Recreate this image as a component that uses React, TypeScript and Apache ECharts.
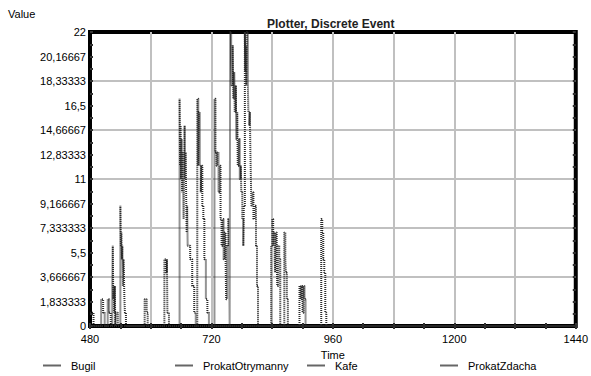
import React, { useEffect, useRef } from "react";
import * as echarts from "echarts";

// [time (min), value]
const bugil: number[][] = [
  [480, 1], [487, 0], [502, 2], [506, 1], [509, 0], [515, 2], [518, 1], [521, 0],
  [524, 3], [525, 6], [526, 2], [527, 3], [528, 1], [529, 3], [530, 0], [531, 1], [535, 0],
  [540, 9], [541, 6], [542, 7], [543, 5], [544, 6], [545, 3], [546, 5], [547, 4], [548, 2], [549, 1], [551, 0],
  [588, 2], [592, 1], [594, 0], [627, 5], [630, 4], [632, 5], [633, 1], [636, 0], [1440, 0],
];
const prokatOtrymanny: number[][] = [
  [480, 0], [657, 17], [658, 12], [659, 15], [660, 11], [661, 14], [662, 10], [663, 13], [664, 11],
  [665, 8], [666, 12], [667, 15], [668, 11], [669, 13], [670, 10], [671, 7], [672, 9], [673, 6],
  [675, 6], [678, 5], [682, 3], [686, 1], [689, 0],
  [692, 17], [694, 12], [695, 16], [697, 12], [699, 10], [700, 12], [702, 9], [704, 8], [706, 5],
  [709, 2], [712, 1], [715, 0], [1440, 0],
];
const kafe: number[][] = [
  [480, 0], [726, 17], [728, 13], [730, 12], [732, 13], [734, 10], [736, 12], [738, 8], [740, 6],
  [742, 8], [744, 5], [746, 7], [748, 5], [749, 2], [751, 6], [753, 8], [755, 5], [756, 0],
  [757, 22], [759, 20], [760, 18], [762, 21], [763, 17], [765, 19], [766, 16], [768, 18], [769, 14],
  [771, 16], [772, 12], [774, 14], [776, 11], [778, 12], [779, 10], [781, 8], [783, 6], [784, 9],
  [786, 22], [787, 19], [788, 21], [789, 18], [790, 22], [792, 18], [793, 16], [795, 15], [796, 16],
  [797, 13], [798, 11], [799, 9], [801, 10], [803, 8], [805, 9], [808, 6], [810, 3], [812, 0], [1440, 0],
];
const prokatZdacha: number[][] = [
  [480, 0], [838, 6], [840, 8], [842, 6], [843, 7], [845, 5], [846, 4], [847, 7], [849, 5], [850, 3],
  [852, 6], [854, 5], [856, 0], [864, 7], [866, 5], [867, 4], [869, 2], [871, 0],
  [894, 3], [896, 2], [898, 3], [900, 1], [902, 3], [904, 2], [906, 0],
  [937, 8], [939, 7], [941, 5], [943, 4], [945, 1], [947, 0], [1440, 0],
];

const seriesNames = ["Bugil", "ProkatOtrymanny", "Kafe", "ProkatZdacha"];
const seriesData = [bugil, prokatOtrymanny, kafe, prokatZdacha];
const legendLefts = [43, 175, 307, 440];

const yMax = 22;
const yLabelSteps = 12;
const yGridSteps = 6;
const xMin = 480;
const xMax = 1440;

const FONT = "Liberation Sans, Arial, sans-serif";

function fmtY(k: number): string {
  const x = (k * yMax) / yLabelSteps;
  return Number(x.toPrecision(7)).toString().replace(".", ",");
}

export default function App() {
  const ref = useRef<HTMLDivElement>(null);
  useEffect(() => {
    if (!ref.current) return;
    const chart = echarts.init(ref.current, undefined, { renderer: "svg" });
    const tickStyle = { color: "#333", width: 2 };
    const gridLine = { show: true, showMinLine: false, showMaxLine: false, lineStyle: { color: "#c0c0c0", width: 2 } };
    const option: any = {
      animation: false,
      backgroundColor: "#fff",
      textStyle: { fontFamily: FONT, color: "#000" },
      title: {
        text: "Plotter, Discrete Event",
        left: 267,
        top: 18,
        padding: 0,
        textStyle: { fontSize: 12, fontWeight: "bold", fontFamily: FONT, color: "#222" },
      },
      graphic: [
        {
          type: "text",
          left: 8,
          top: 8,
          style: { text: "Value", fontSize: 11, fontFamily: FONT, fill: "#000" },
        },
      ],
      legend: seriesNames.map((n, i) => ({
        data: [n],
        left: legendLefts[i],
        top: 360,
        padding: 0,
        icon: "rect",
        itemWidth: 18,
        itemHeight: 2,
        itemStyle: { color: "#666" },
        textStyle: { fontSize: 11, fontFamily: FONT, color: "#000", padding: [0, 0, 0, 5] },
      })),
      grid: {
        left: 90,
        right: 14,
        top: 32,
        bottom: 50,
        show: true,
        borderColor: "#000",
        borderWidth: 4,
        backgroundColor: "transparent",
      },
      xAxis: [
        {
          type: "value",
          min: xMin,
          max: xMax,
          interval: 240,
          position: "bottom",
          axisLine: { show: false },
          axisTick: { show: true, inside: true, length: 3, lineStyle: tickStyle },
          minorTick: { show: true, splitNumber: 4, length: 3, lineStyle: tickStyle },
          axisLabel: { margin: 7, fontSize: 11, fontFamily: FONT, color: "#000", formatter: (v: number) => String(v) },
          splitLine: { show: false },
          name: "Time",
          nameLocation: "middle",
          nameGap: 23,
          nameTextStyle: { fontSize: 11, fontFamily: FONT, color: "#000" },
        },
        {
          type: "value",
          min: xMin,
          max: xMax,
          interval: 240,
          position: "top",
          axisLine: { show: false },
          axisTick: { show: true, inside: true, length: 3, lineStyle: tickStyle },
          minorTick: { show: true, splitNumber: 4, length: 3, lineStyle: tickStyle },
          axisLabel: { show: false },
          splitLine: { show: false },
        },
        {
          type: "value",
          min: xMin,
          max: xMax,
          interval: 120,
          position: "bottom",
          axisLine: { show: false },
          axisTick: { show: false },
          axisLabel: { show: false },
          splitLine: gridLine,
        },
      ],
      yAxis: [
        {
          type: "value",
          min: 0,
          max: yMax,
          show: false,
        },
        {
          type: "value",
          min: 0,
          max: yLabelSteps,
          interval: 1,
          position: "left",
          axisLine: { show: false },
          axisTick: { show: true, inside: true, length: 3, lineStyle: tickStyle },
          minorTick: { show: true, splitNumber: 2, length: 3, lineStyle: tickStyle },
          axisLabel: {
            margin: 4,
            fontSize: 11,
            fontFamily: FONT,
            color: "#000",
            formatter: (v: number) => fmtY(v),
          },
          splitLine: { show: false },
        },
        {
          type: "value",
          min: 0,
          max: yLabelSteps,
          interval: 1,
          position: "right",
          axisLine: { show: false },
          axisTick: { show: true, inside: true, length: 3, lineStyle: tickStyle },
          minorTick: { show: true, splitNumber: 2, length: 3, lineStyle: tickStyle },
          axisLabel: { show: false },
          splitLine: { show: false },
        },
        {
          type: "value",
          min: 0,
          max: yGridSteps,
          interval: 1,
          position: "left",
          axisLine: { show: false },
          axisTick: { show: false },
          axisLabel: { show: false },
          splitLine: gridLine,
        },
      ],
      series: seriesNames.map((n, i) => ({
        name: n,
        type: "line",
        step: "end",
        xAxisIndex: 0,
        yAxisIndex: 0,
        data: seriesData[i],
        symbol: "none",
        showSymbol: false,
        color: "#666",
        lineStyle: { color: "#2a2a2a", width: 2, type: [1, 1] },
        z: 5,
      })),
    };
    chart.setOption(option);
    return () => chart.dispose();
  }, []);
  return (
    <div
      ref={ref}
      style={{ position: "absolute", left: 0, top: 0, width: 591, height: 376 }}
    />
  );
}
